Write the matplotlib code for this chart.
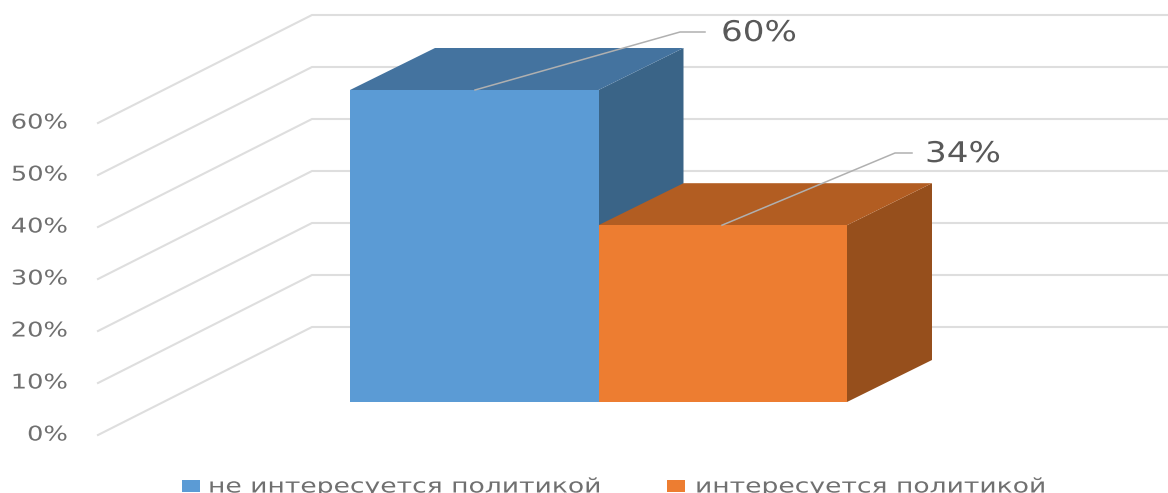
import matplotlib
matplotlib.use("Agg")
import matplotlib.pyplot as plt
import matplotlib.patheffects as pe
from matplotlib.patches import Polygon, Rectangle
from matplotlib.transforms import Affine2D

categories = ["не интересуется политикой", "интересуется политикой"]
values = [60, 34]
value_labels = ["60%", "34%"]
ticks = [0, 10, 20, 30, 40, 50, 60]
tick_labels = ["0%", "10%", "20%", "30%", "40%", "50%", "60%"]
front_colors = ["#5B9BD5", "#ED7D31"]
top_colors = ["#44739F", "#B25D22"]
side_colors = ["#3A6487", "#964F1C"]

W, H = 1168, 493
X0, XU = 350, 248.5      # pixel of category origin, pixels per category
Y0, YU = 402, 5.2        # pixel of 0 %, pixels per percent

fig = plt.figure(figsize=(W / 100, H / 100), dpi=100)
ax = fig.add_axes([0, 0, 1, 1])
ax.set_xlim(-X0 / XU, (W - X0) / XU)
ax.set_ylim((Y0 - H) / YU, Y0 / YU)
ax.axis("off")


def px(x, y):
    return (x - X0) / XU, (Y0 - y) / YU


class Stretch(pe.AbstractPathEffect):
    """The reference text is stretched horizontally; widen glyphs from the text origin."""

    def __init__(self, sx):
        super().__init__()
        self.sx = sx

    def draw_path(self, renderer, gc, tpath, affine, rgbFace=None):
        renderer.draw_path(gc, tpath, Affine2D().scale(self.sx, 1) + affine, rgbFace)


# depth of the bars and of the chart floor, in data units
bar_dx, bar_dy = 85 / XU, 42 / YU
wall_x0, wall_x1 = (98 - X0) / XU, (312 - X0) / XU
wall_y0 = (402 - 435) / YU
wall_rise = 108 / YU
right = (W - X0) / XU

TICK_SX = 1.27
renderer = fig.canvas.get_renderer()
for t, lab in zip(ticks, tick_labels):
    y0 = wall_y0 + t
    ax.plot([wall_x0, wall_x1, right], [y0, y0 + wall_rise, y0 + wall_rise],
            color="#DEDEDE", lw=1.5, zorder=1, solid_joinstyle="miter")
    txt = ax.text(0, y0, lab, ha="left", va="center", fontsize=14.6, color="#707070",
                  family="DejaVu Sans", zorder=5, path_effects=[Stretch(TICK_SX)])
    width = txt.get_window_extent(renderer).width * TICK_SX
    txt.set_x(px(68 - width, 0)[0])

for i, (v, cf, ct, cs) in enumerate(zip(values, front_colors, top_colors, side_colors)):
    x0, x1 = i, i + 1
    ax.add_patch(Polygon([(x1, 0), (x1 + bar_dx, bar_dy), (x1 + bar_dx, v + bar_dy), (x1, v)],
                         closed=True, fc=cs, ec="none", zorder=2 + i))
    ax.add_patch(Polygon([(x0, v), (x0 + bar_dx, v + bar_dy), (x1 + bar_dx, v + bar_dy), (x1, v)],
                         closed=True, fc=ct, ec="none", zorder=2 + i))
    ax.add_patch(Rectangle((x0, 0), 1, v, fc=cf, ec="none", zorder=2 + i))

# data labels with leader lines
anchor_x = [(475 - X0) / XU, (722 - X0) / XU]
elbow_px = [((680, 32), (705, 32)), ((895, 153), (912, 153))]
label_px = [(721, 33), (925, 154)]
for v, ax_x, elbow, lp, lab in zip(values, anchor_x, elbow_px, label_px, value_labels):
    e1, e2 = px(*elbow[0]), px(*elbow[1])
    ax.plot([ax_x, e1[0], e2[0]], [v, e1[1], e2[1]], color="#B0B0B0", lw=1.1, zorder=6)
    tx, ty = px(*lp)
    ax.text(tx, ty, lab, ha="left", va="center", fontsize=20.5, color="#595959",
            family="DejaVu Sans", zorder=7, path_effects=[Stretch(1.2)])

# legend
swatch_px = [(182, 480), (667, 480)]
text_px = [208, 695]
for (sx, sy), tx, cat, c in zip(swatch_px, text_px, categories, front_colors):
    a, b = px(sx, sy + 12)
    ax.add_patch(Rectangle((a, b), 17.5 / XU, 12 / YU, fc=c, ec="none", zorder=5))
    t, bl = px(tx, 492.5)
    ax.text(t, bl, cat, ha="left", va="baseline", fontsize=14.5, color="#707070",
            family="DejaVu Sans", zorder=5, path_effects=[Stretch(1.32)])

fig.savefig("out.png", dpi=100, facecolor="white")
